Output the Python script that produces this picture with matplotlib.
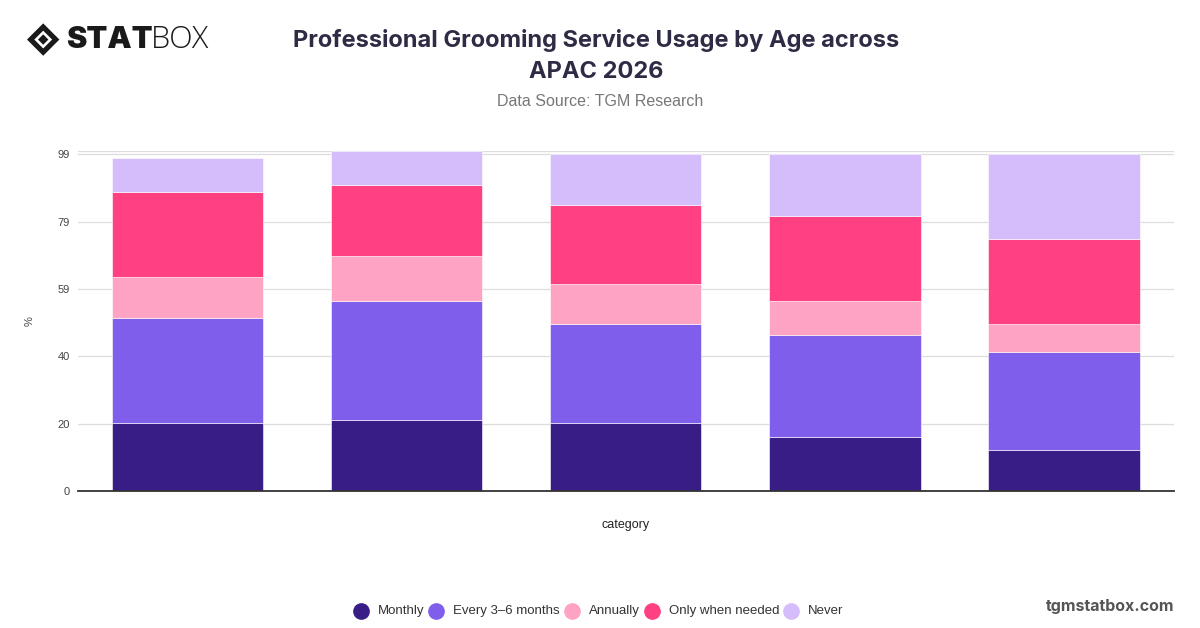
import numpy as np
import matplotlib
matplotlib.use("Agg")
import matplotlib.pyplot as plt
from matplotlib.patches import Polygon

# data
categories = ["18-24", "25-34", "35-44", "45-54", "55+"]
series = ["Monthly", "Every 3\u20136 months", "Annually", "Only when needed", "Never"]
monthly = [20, 21, 20, 16, 12]
every_3_6 = [31, 35, 29, 30, 29]
annually = [12, 13, 12, 10, 8]
when_needed = [25, 21, 23, 25, 25]
never = [10, 10, 15, 18, 25]
y_ticks = [0, 19.8, 39.6, 59.4, 79.2, 99]

COLORS = ["#371d85", "#7e5eeb", "#ffa3c4", "#ff4083", "#d5bcfa"]
TITLE_C = "#2e2b45"
SANS = ["Liberation Sans", "DejaVu Sans"]

plt.rcParams["font.family"] = ["Inter", "DejaVu Sans"]

fig = plt.figure(figsize=(12, 6.28), dpi=100, facecolor="white")
ax = fig.add_axes([0.065, 0.218, 0.913, 0.5414])

x = np.arange(len(categories))
bottom = np.zeros(len(categories))
for name, vals, col in zip(series, [monthly, every_3_6, annually, when_needed, never], COLORS):
    ax.bar(x, vals, width=0.69, bottom=bottom, color=col, label=name,
           edgecolor="white", linewidth=0.4, zorder=3)
    bottom += np.array(vals)

ax.set_xlim(-0.5, len(categories) - 0.5)
ax.set_ylim(0, 100)
ax.set_yticks(y_ticks)
ax.set_yticklabels([f"{t:.0f}" for t in y_ticks], family=SANS)
ax.set_xticks([])
ax.tick_params(axis="y", length=0, labelsize=8, labelcolor="#444444", pad=6)
ax.grid(axis="y", color="#dddddd", linewidth=0.9, zorder=0)
ax.axhline(100, color="#dddddd", linewidth=0.9, zorder=0)
for s in ["top", "right", "left"]:
    ax.spines[s].set_visible(False)
ax.spines["bottom"].set_color("#333333")
ax.spines["bottom"].set_linewidth(1.3)
ax.spines["bottom"].set_zorder(4)

ax.set_ylabel("%", fontsize=8, color="#444444", labelpad=16, family=SANS)
ax.set_xlabel("category", fontsize=9, color="#222222", labelpad=20, family=SANS)

# titles
fig.text(0.497, 0.935, "Professional Grooming Service Usage by Age across",
         ha="center", va="center", fontsize=17, fontweight="bold", color=TITLE_C)
fig.text(0.497, 0.886, "APAC 2026", ha="center", va="center",
         fontsize=17, fontweight="bold", color=TITLE_C)
fig.text(0.5, 0.838, "Data Source: TGM Research", ha="center", va="center",
         fontsize=11.5, color="#777777", family=SANS)

# legend
leg = fig.legend(*ax.get_legend_handles_labels(),
                 loc="center", bbox_to_anchor=(0.5, 0.028), ncol=5, frameon=False,
                 handlelength=1.0, handleheight=1.0,
                 handletextpad=0.6, columnspacing=0.6,
                 prop={"family": SANS, "size": 9.5})
for h in leg.legend_handles:
    h.set_visible(False)
for t in leg.get_texts():
    t.set_color("#333333")
fig.canvas.draw()
for t, col in zip(leg.get_texts(), COLORS):
    bb = t.get_window_extent()
    cx = (bb.x0 - 17) / fig.bbox.width
    cy = (bb.y0 + bb.y1) / 2 / fig.bbox.height
    fig.lines.append(plt.Line2D([cx], [cy], marker="o", markersize=11,
                                color=col, linestyle="none", transform=fig.transFigure))

fig.text(0.979, 0.035, "tgmstatbox.com", ha="right", va="center",
         fontsize=11.5, fontweight="bold", color="#555555")

# logo
lx, ly, r = 0.036, 0.937, 0.0135
ry = r * 1200 / 628
fig.patches.append(Polygon([(lx - r, ly), (lx, ly + ry), (lx + r, ly), (lx, ly - ry)],
                           closed=True, facecolor="#1a1a1a", transform=fig.transFigure))
r2 = r * 0.55
ry2 = ry * 0.55
fig.patches.append(Polygon([(lx - r2, ly), (lx, ly + ry2), (lx + r2, ly), (lx, ly - ry2)],
                           closed=True, facecolor="white", transform=fig.transFigure))
r3 = r * 0.32
ry3 = ry * 0.32
fig.patches.append(Polygon([(lx - r3, ly), (lx, ly + ry3), (lx + r3, ly), (lx, ly - ry3)],
                           closed=True, facecolor="#1a1a1a", transform=fig.transFigure))
fig.text(0.055, 0.936, "STAT", ha="left", va="center", fontsize=22,
         fontweight="black", color="#1a1a1a")
fig.text(0.126, 0.936, "BOX", ha="left", va="center", fontsize=22,
         fontweight="light", color="#1a1a1a", family=["Open Sans", "DejaVu Sans"])

fig.savefig("out.png", dpi=100, facecolor="white")
